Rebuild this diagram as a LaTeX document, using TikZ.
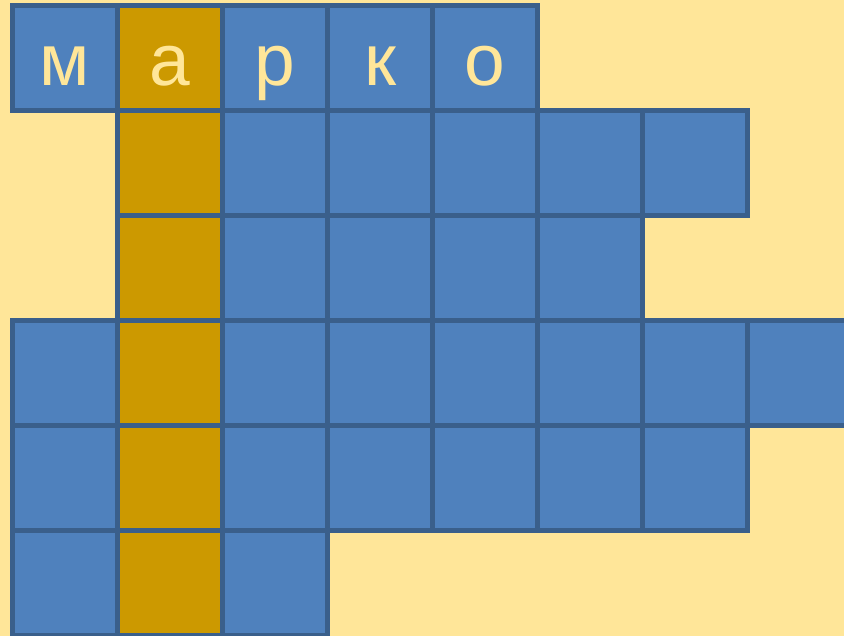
\documentclass[tikz,border=0pt]{standalone}
\usepackage{fontspec}
\setmainfont{Liberation Sans}
\definecolor{bgyellow}{HTML}{FFE699}
\definecolor{cellblue}{HTML}{4F81BD}
\definecolor{cellline}{HTML}{3A5F8B}
\definecolor{cellgold}{HTML}{CC9900}
\tikzset{
	cell/.style={draw=cellline, fill=cellblue, line width=3.6pt, minimum size=2.625cm,
		inner sep=0pt, outer sep=0pt, anchor=north west, text=bgyellow,
		font=\fontsize{52}{52}\selectfont, text height=1.35cm, text depth=0pt},
	keycell/.style={cell, fill=cellgold}
}
\begin{document}
\begin{tikzpicture}[x=0.025cm, y=-0.025cm]
	\fill[bgyellow] (0,0) rectangle (844,636);
	\useasboundingbox (0,0) rectangle (844,636);
	\clip (0,0) rectangle (844,636);
	% first row: the word
	\foreach \c/\t/\s in {0/м/cell, 1/а/keycell, 2/р/cell, 3/к/cell, 4/о/cell}
		\node[\s] (r0c\c) at (12.5+105*\c, 5.5) {\t};
	% remaining rows, column 1 is the key column
	\foreach \r/\first/\last in {1/1/6, 2/1/5, 3/0/7, 4/0/6, 5/0/2}
		\foreach \c in {\first,...,\last}{
			\ifnum\c=1
				\node[keycell] (r\r c\c) at (12.5+105*\c, 5.5+105*\r) {};
			\else
				\node[cell] (r\r c\c) at (12.5+105*\c, 5.5+105*\r) {};
			\fi
		}
\end{tikzpicture}
\end{document}
